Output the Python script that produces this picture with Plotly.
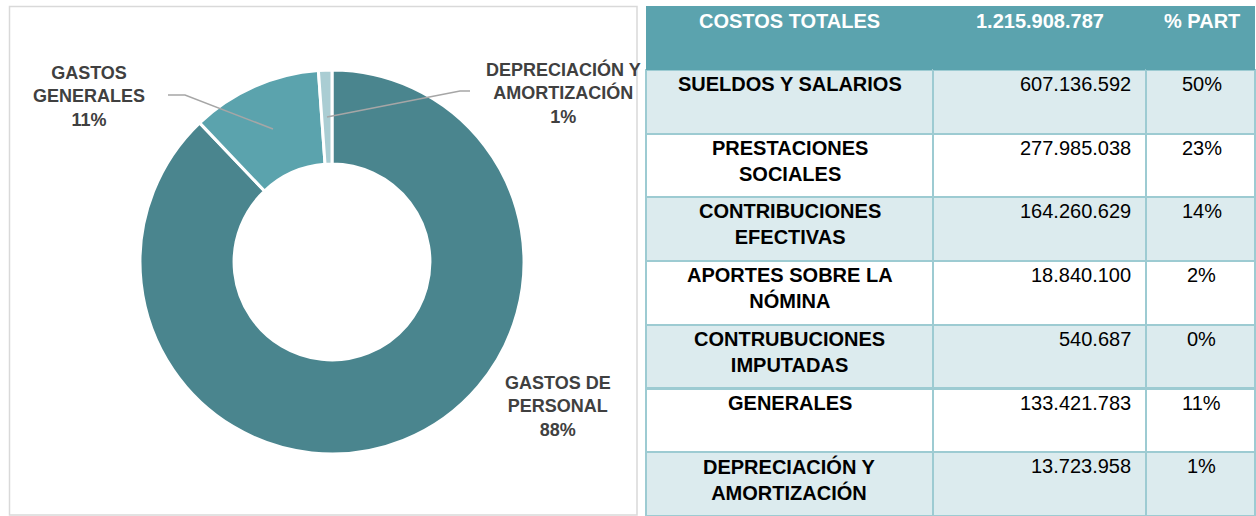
import plotly.graph_objects as go

W, H = 1256, 516

# ---- data ----
pie_labels = ["GASTOS DE PERSONAL", "GASTOS GENERALES", "DEPRECIACIÓN Y AMORTIZACIÓN"]
pie_values = [1068763046, 133421783, 13723958]
pie_pcts = ["88%", "11%", "1%"]
pie_colors = ["#4A858E", "#5BA3AD", "#AACDD3"]

header_labels = ["COSTOS TOTALES", "1.215.908.787", "% PART"]
table_categories = ["SUELDOS Y SALARIOS", "PRESTACIONES<br>SOCIALES", "CONTRIBUCIONES<br>EFECTIVAS",
                    "APORTES SOBRE LA<br>NÓMINA", "CONTRUBUCIONES<br>IMPUTADAS", "GENERALES",
                    "DEPRECIACIÓN Y<br>AMORTIZACIÓN"]
table_values = [607136592, 277985038, 164260629, 18840100, 540687, 133421783, 13723958]
table_pcts = ["50%", "23%", "14%", "2%", "0%", "11%", "1%"]


def px(x):
    return x / W


def py(y):
    return 1 - y / H


def fmt(v):
    return f"{v:,}".replace(",", ".")


FONT = "Liberation Sans, Arial, sans-serif"

fig = go.Figure()

# ---- donut ----
cx, cy, r = 332, 262, 192
fig.add_trace(go.Pie(
    labels=pie_labels, values=pie_values, sort=False, direction="clockwise", rotation=0,
    hole=0.51, textinfo="none", hoverinfo="label+percent",
    marker=dict(colors=pie_colors, line=dict(color="white", width=3)),
    domain=dict(x=[px(cx - r), px(cx + r)], y=[py(cy + r), py(cy - r)]),
    showlegend=False,
))

# ---- table (cells / fills / grid) ----
TX0, TTOP = 646, 6
col_w = [287, 214, 109]
HEAD_H = 64
ROW_H = 63.7
n = len(table_categories)
row_fill = ["#DCEBEE" if i % 2 == 0 else "#FFFFFF" for i in range(n)]
fig.add_trace(go.Table(
    domain=dict(x=[px(TX0), 1], y=[0, py(TTOP)]),
    columnwidth=col_w,
    header=dict(
        values=["", "", ""],
        fill_color="#5BA3AE", line=dict(color="#5BA3AE", width=0),
        height=HEAD_H,
    ),
    cells=dict(
        values=[[""] * n, [""] * n, [""] * n],
        fill_color=[row_fill, row_fill, row_fill],
        line=dict(color="#9DCBD2", width=2),
        height=ROW_H,
    ),
    hoverinfo="skip",
))

annotations = []
TFS = 20
col_left = [TX0, TX0 + col_w[0], TX0 + col_w[0] + col_w[1]]
CAP_OFF = 1  # annotation box top relative to cell top


def cell_ann(text, col, top, color, bold, align):
    if align == "center":
        x = col_left[col] + col_w[col] / 2
        xa = "center"
    else:
        x = col_left[col] + col_w[col] - 14
        xa = "right"
    t = f"<b>{text}</b>" if bold else text
    return dict(x=px(x), y=py(top + CAP_OFF), xref="paper", yref="paper", text=t,
                showarrow=False, xanchor=xa, yanchor="top", align="center",
                font=dict(family=FONT, size=TFS, color=color))


for j, h in enumerate(header_labels):
    annotations.append(cell_ann(h, j, TTOP + 1, "white", True, "center"))
for i in range(n):
    top = TTOP + HEAD_H + i * ROW_H
    annotations.append(cell_ann(table_categories[i], 0, top, "black", True, "center"))
    annotations.append(cell_ann(fmt(table_values[i]), 1, top, "black", False, "right"))
    annotations.append(cell_ann(table_pcts[i], 2, top, "black", False, "center"))

# ---- donut labels ----
label_font = dict(family=FONT, size=18, color="#404040")
pie_label_pos = [(558, 406), (89, 96), (563, 93)]
pie_label_text = ["GASTOS DE<br>PERSONAL", "GASTOS<br>GENERALES", "DEPRECIACIÓN Y<br>AMORTIZACIÓN"]
for (x, y), t, p in zip(pie_label_pos, pie_label_text, pie_pcts):
    annotations.append(dict(x=px(x), y=py(y), xref="paper", yref="paper", text=f"<b>{t}<br>{p}</b>",
                            showarrow=False, font=label_font, align="center",
                            xanchor="center", yanchor="middle"))

shapes = [
    dict(type="rect", xref="paper", yref="paper", x0=px(9.5), x1=px(637), y0=py(515), y1=py(6.5),
         line=dict(color="#D9D9D9", width=1.5), fillcolor="rgba(0,0,0,0)", layer="below"),
    dict(type="path", xref="paper", yref="paper",
         path=f"M {px(168)} {py(95)} L {px(185)} {py(95)} L {px(273)} {py(129)}",
         line=dict(color="#A6A6A6", width=1.5)),
    dict(type="path", xref="paper", yref="paper",
         path=f"M {px(470)} {py(91)} L {px(460)} {py(91)} L {px(327)} {py(117)}",
         line=dict(color="#A6A6A6", width=1.5)),
]

fig.update_layout(
    width=W, height=H, margin=dict(l=0, r=0, t=0, b=0),
    paper_bgcolor="white", plot_bgcolor="white",
    annotations=annotations, shapes=shapes,
    font=dict(family=FONT),
)

fig.write_html("out.html", config={"displayModeBar": False},
               post_script="document.body.style.margin='0';document.body.style.padding='0';"
                           "document.body.style.overflow='hidden';")
